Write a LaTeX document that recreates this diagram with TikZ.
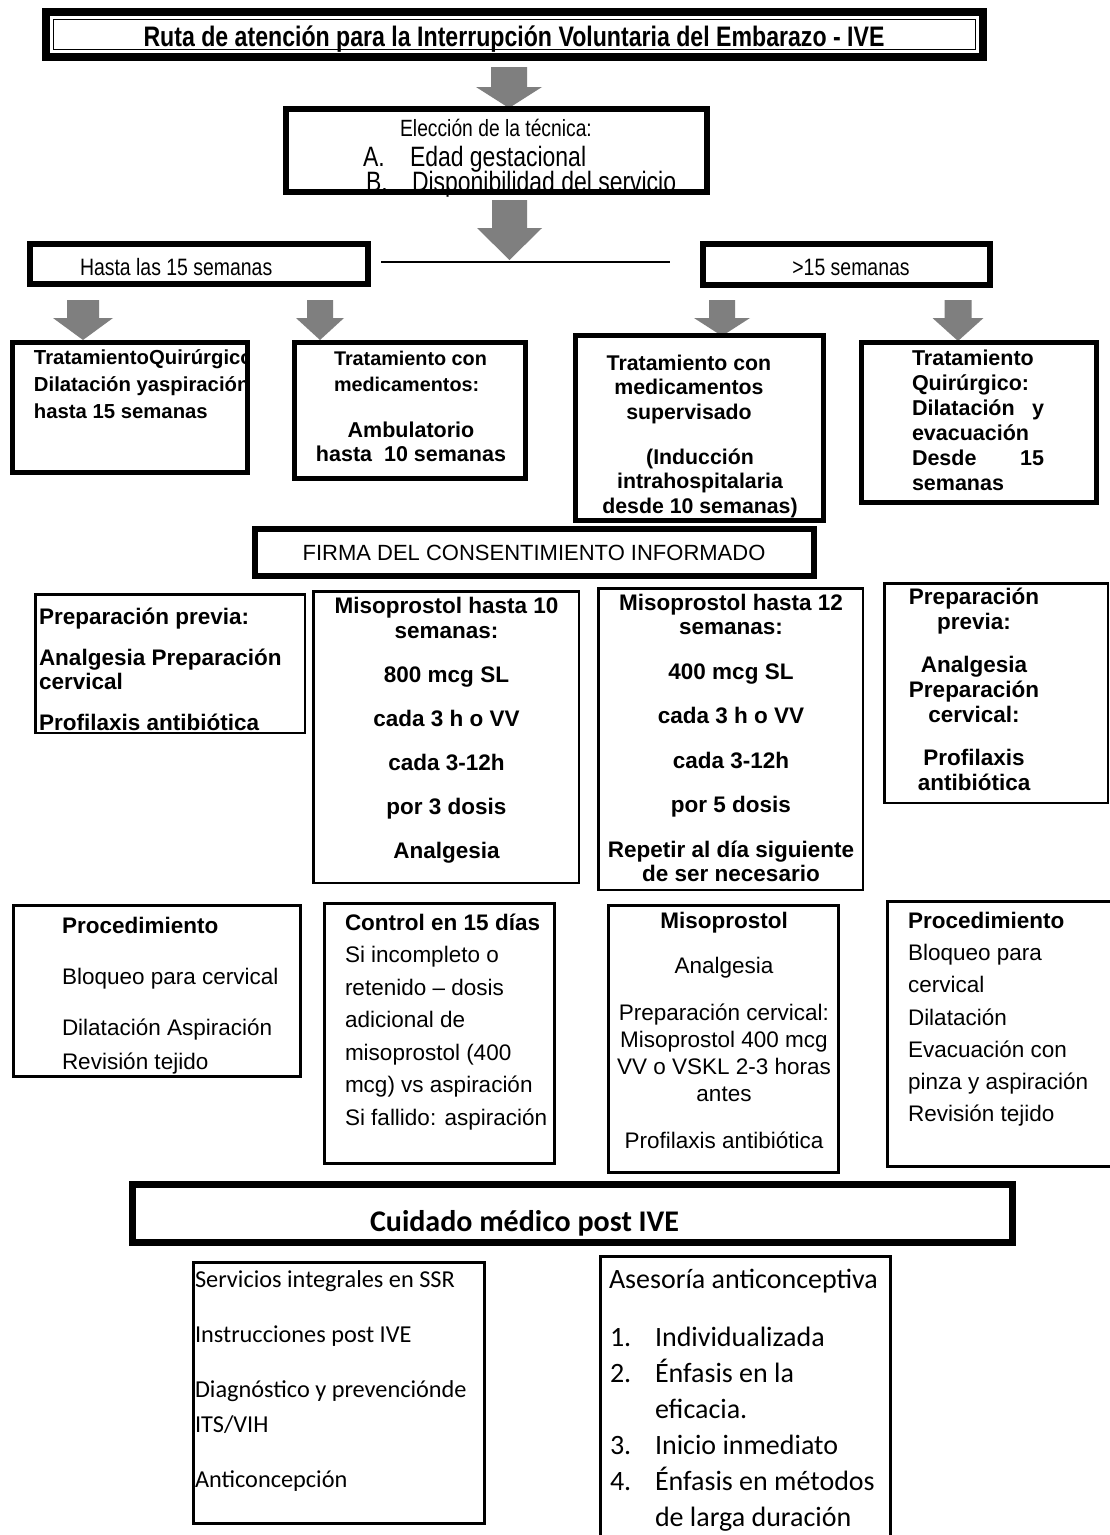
\documentclass[tikz,border=0pt]{standalone}
\usepackage{fontspec}
\setmainfont{Liberation Sans}
\newfontfamily\narrowfont[FakeStretch=0.82]{Liberation Sans}
\newfontfamily\calibrifont{Carlito}
\definecolor{arrowgray}{RGB}{127,127,127}
\newcommand\fl{\rule{0pt}{0.9em}}
\newcommand\fs[2]{\fontsize{#1}{#2}\selectfont}
\newcommand\mkbox[6]{%
  \pgfmathsetmacro\mkbw{#5-#3-#2}%
  \pgfmathsetmacro\mkbh{#6-#4-#2}%
  \node[boxline, line width=#2pt, minimum width=\mkbw pt, minimum height=\mkbh pt] (#1) at ({(#3+#5)/2},{(#4+#6)/2}) {};}
\newcommand\blockarrow[6]{%
  \fill[arrowgray] ({#1-#5},#2) -- ({#1+#5},#2) -- ({#1+#5},#3) -- ({#1+#6},#3) -- (#1,#4) -- ({#1-#6},#3) -- ({#1-#5},#3) -- cycle;}
\begin{document}
\begin{tikzpicture}[x=1pt,y=-1pt,
  txt/.style={inner sep=0pt, outer sep=0pt},
  boxline/.style={draw, rectangle, inner sep=0pt},
  connector/.style={line width=2pt},
  narrowtxt/.style={txt, font={\narrowfont\fs{#1}{#1}}},
  boldblock/.style 2 args={txt, font={\bfseries\fs{#1}{#2}}},
  regblock/.style 2 args={txt, font={\fs{#1}{#2}}}]
\fill[white] (0,0) rectangle (1110,1535);
\useasboundingbox (0,0) rectangle (1110,1535);

% ---------- title ----------
\node[txt, anchor=base, font={\narrowfont\bfseries\fs{28.2}{32}}] (titletext) at (514,46)
  {Ruta de atención para la Interrupción Voluntaria del Embarazo - IVE};
\mkbox{title}{8}{42}{8}{987}{61}
\draw[line width=1.6pt] ([shift={(11.5,11.5)}]title.north west) rectangle ([shift={(-11.5,-11.5)}]title.south east);

\blockarrow{509}{67}{87}{108}{18}{33}

% ---------- eleccion ----------
\node[narrowtxt=23.5, anchor=base] (elec-h) at (496,136) {Elección de la técnica:};
\node[narrowtxt=28, anchor=base west] (elec-a) at (363,166) {A.};
\node[narrowtxt=28, anchor=base west] (elec-at) at (410,166) {Edad gestacional};
\node[narrowtxt=28, anchor=base west] (elec-b) at (366,191) {B.};
\node[narrowtxt=28, anchor=base west] (elec-bt) at (412,191) {Disponibilidad del servicio};
\mkbox{eleccion}{6}{283}{106}{710}{195}

\blockarrow{509.5}{200}{228}{260}{17.5}{32.5}

% ---------- branches ----------
\node[narrowtxt=23.7, anchor=base west] (hasta-t) at (80,275.5) {Hasta las 15 semanas};
\mkbox{hasta}{6}{27}{241}{371}{287}
\node[narrowtxt=23.7, anchor=base] (mas15-t) at (851,275.5) {>15 semanas};
\mkbox{mas15}{6}{700}{241}{993}{288}
\coordinate (lineL) at ([xshift=10pt,yshift=2pt]hasta.east);
\coordinate (lineR) at ([xshift=-30pt]mas15.west |- lineL);
\draw[connector] (lineL) -- (lineR);

\blockarrow{83}{300}{318}{340}{16}{30}
\blockarrow{320}{300}{318}{340}{13}{24}
\blockarrow{722}{300}{318}{336}{13}{28}
\blockarrow{958}{300}{318}{341}{13.5}{25.5}

% ---------- treatments ----------
\begin{scope}
\clip (15,345) rectangle (245.5,470);
\node[boldblock={20.3}{27}, anchor=north west, align=left] (quir1-t) at (34,346.5)
  {\fl TratamientoQuirúrgico\\ Dilatación yaspiración\\ hasta 15 semanas};
\end{scope}
\mkbox{quir1}{5}{10}{340}{250}{475}

\node[boldblock={19.8}{26}, anchor=north west, align=left] (med1-a) at (334,347.5)
  {\fl Tratamiento con\\ medicamentos:};
\node[boldblock={21.5}{24}, anchor=north, align=center] (med1-b) at (411,418)
  {\fl Ambulatorio\\ hasta~~10 semanas};
\mkbox{med1}{5}{292}{340}{528}{481}

\node[boldblock={21.3}{24.5}, anchor=north, align=center] (med2-a) at (689,351)
  {\fl Tratamiento con\\ medicamentos\\ supervisado};
\node[boldblock={21.3}{24.5}, anchor=north, align=center] (med2-b) at (700,445)
  {\fl (Inducción\\ intrahospitalaria\\ desde 10 semanas)};
\mkbox{med2}{5}{573}{333}{826}{523}

\node[boldblock={21.5}{25}, anchor=north west, align=left, text width=132pt] (quir2-t) at (912,346)
  {\fl Tratamiento\\ Quirúrgico:\\ Dilatación\hfill y\\ evacuación\\ Desde\hfill 15\\ semanas};
\mkbox{quir2}{5}{859}{340}{1099}{505}

% ---------- consentimiento ----------
\node[txt, anchor=base, font={\fs{22}{26}}] (firma-t) at (534,560) {FIRMA DEL CONSENTIMIENTO INFORMADO};
\mkbox{firma}{6}{252}{526}{817}{579}

% ---------- row 3 ----------
\node[boldblock={22.5}{24}, anchor=north west, align=left] (prep1-t) at (39,603.75)
  {\fl Preparación previa:\\[17pt] Analgesia Preparación\\ cervical\\[17pt] Profilaxis antibiótica};
\mkbox{prep1}{2.5}{34}{593}{306}{734}

\node[boldblock={22.5}{25}, anchor=north, align=center] (miso10-t) at (446.5,593.2)
  {\fl Misoprostol hasta 10\\ semanas:\\[19pt] 800 mcg SL\\[19pt] cada 3 h o VV\\[19pt] cada 3-12h\\[19pt] por 3 dosis\\[19pt] Analgesia};
\mkbox{miso10}{2.5}{312}{590}{580}{884}

\node[boldblock={22.5}{24.5}, anchor=north, align=center] (miso12-t) at (731,590.2)
  {\fl Misoprostol hasta 12\\ semanas:\\[20pt] 400 mcg SL\\[20pt] cada 3 h o VV\\[20pt] cada 3-12h\\[20pt] por 5 dosis\\[20pt] Repetir al día siguiente\\ de ser necesario};
\mkbox{miso12}{2.5}{597}{587}{864}{891}

\node[boldblock={22.5}{25}, anchor=north, align=center] (prep2-t) at (974,584.2)
  {\fl Preparación\\ previa:\\[18pt] Analgesia\\ Preparación\\ cervical:\\[18pt] Profilaxis\\ antibiótica};
\mkbox{prep2}{2.5}{883}{582}{1109}{804}

% ---------- row 4 ----------
\node[regblock={22.5}{34}, anchor=north west, align=left] (proc1-t) at (62,913.2)
  {\fl\textbf{Procedimiento}\\[17pt] Bloqueo para cervical\\[17pt] Dilatación Aspiración\\ Revisión tejido};
\mkbox{proc1}{3}{12}{904}{302}{1078}

\node[regblock={22.5}{32.5}, anchor=north west, align=left] (control-t) at (345,910.2)
  {\fl\textbf{Control en 15 días}\\ Si incompleto o\\ retenido – dosis\\ adicional de\\ misoprostol (400\\ mcg) vs aspiración\\ Si fallido: aspiración};
\mkbox{control}{3}{323}{902}{556}{1165}

\node[regblock={22.5}{27}, anchor=north, align=center] (miso-t) at (724,908.2)
  {\fl\textbf{Misoprostol}\\[18pt] Analgesia\\[20pt] Preparación cervical:\\ Misoprostol 400 mcg\\ VV o VSKL 2-3 horas\\ antes\\[20pt] Profilaxis antibiótica};
\mkbox{miso}{3}{607}{904}{840}{1174}

\node[regblock={22.5}{32.2}, anchor=north west, align=left] (proc2-t) at (908,908.2)
  {\fl\textbf{Procedimiento}\\ Bloqueo para\\ cervical\\ Dilatación\\ Evacuación con\\ pinza y aspiración\\ Revisión tejido};
\mkbox{proc2}{3}{886}{900}{1118}{1168}

% ---------- post IVE ----------
\node[txt, anchor=base, font={\calibrifont\bfseries\fs{30}{34}}] (cuidado-t) at (524.5,1231) {Cuidado médico post IVE};
\mkbox{cuidado}{7}{129}{1181}{1016}{1246}

\node[txt, anchor=north west, align=left, font={\calibrifont\fs{24.3}{35}}] (servicios-t) at (195,1265.4)
  {\fl Servicios integrales en SSR\\[20pt] Instrucciones post IVE\\[20pt] Diagnóstico y prevenciónde\\ ITS/VIH\\[20pt] Anticoncepción};
\mkbox{servicios}{3}{192}{1261}{486}{1525}

\node[txt, anchor=base west, font={\calibrifont\fs{28}{36}}] (asesoria-h) at (609,1288) {Asesoría anticonceptiva};
\node[txt, anchor=north west, align=left, font={\calibrifont\fs{28}{36}}] (asesoria-n) at (610,1320.8)
  {\fl 1.\\ 2.\\[36pt] 3.\\ 4.};
\node[txt, anchor=north west, align=left, font={\calibrifont\fs{28}{36}}] (asesoria-l) at (655,1320.8)
  {\fl Individualizada\\ Énfasis en la\\ eficacia.\\ Inicio inmediato\\ Énfasis en métodos\\ de larga duración};
\mkbox{asesoria}{3}{599}{1255}{892}{1545}
\end{tikzpicture}
\end{document}
